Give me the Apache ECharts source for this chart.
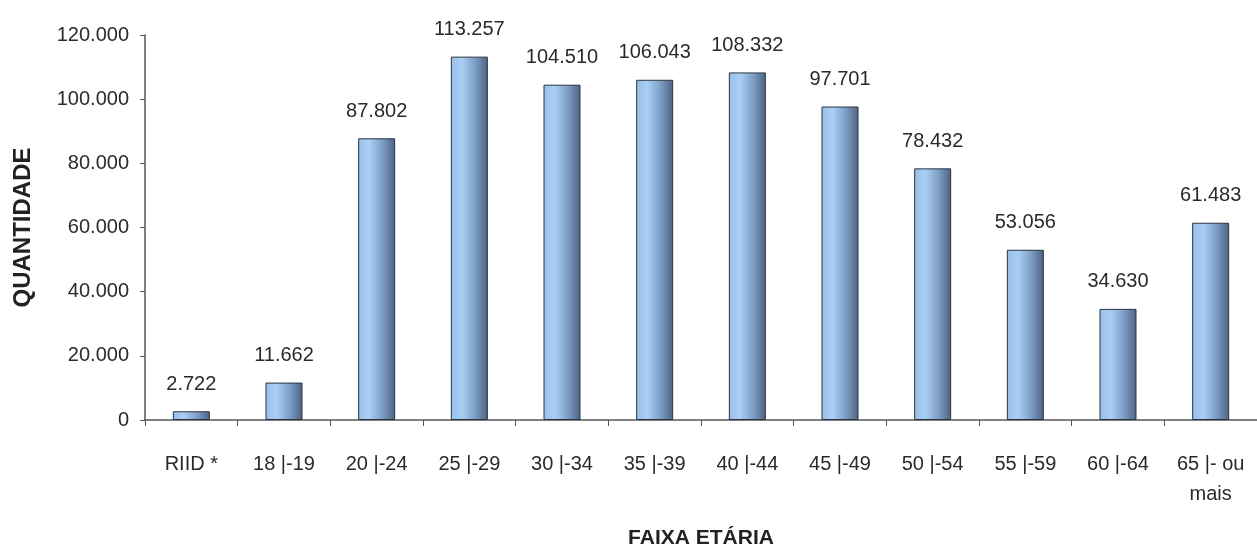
<!DOCTYPE html>
<html><head><meta charset="utf-8">
<script src="https://cdn.jsdelivr.net/npm/echarts@6/dist/echarts.min.js"></script>
<style>html,body{margin:0;padding:0;background:#fff}#c{width:1257px;height:554px}</style>
</head><body><div id="c"></div>
<script>
const categories = ['RIID *', '18 |-19', '20 |-24', '25 |-29', '30 |-34', '35 |-39', '40 |-44', '45 |-49', '50 |-54', '55 |-59', '60 |-64', '65 |- ou\nmais'];
const values = [2722, 11662, 87802, 113257, 104510, 106043, 108332, 97701, 78432, 53056, 34630, 61483];
const yTicks = [0, 20000, 40000, 60000, 80000, 100000, 120000];
const fmt = v => v === 0 ? '0' : String(v).replace(/\B(?=(\d{3})+(?!\d))/g, '.');
const chart = echarts.init(document.getElementById('c'));
chart.setOption({
  animation: false,
  backgroundColor: '#ffffff',
  textStyle: { fontFamily: 'Liberation Sans, Arial, sans-serif' },
  grid: { left: 145, top: 35, width: 1114, height: 387 },
  xAxis: {
    type: 'category', data: categories,
    name: 'FAIXA ETÁRIA', nameLocation: 'middle', nameGap: 108,
    nameTextStyle: { fontWeight: 'bold', fontSize: 21, color: '#222' },
    axisLine: { lineStyle: { color: '#555', width: 1.5 } },
    axisTick: { show: true, alignWithLabel: false, length: 6, lineStyle: { color: '#555' } },
    axisLabel: { fontSize: 20, color: '#2a2a2a', margin: 29, interval: 0, lineHeight: 30 }
  },
  yAxis: {
    type: 'value', min: yTicks[0], max: yTicks[yTicks.length - 1], interval: 20000,
    name: 'QUANTIDADE', nameLocation: 'middle', nameGap: 110, nameRotate: 90,
    nameTextStyle: { fontWeight: 'bold', fontSize: 24, color: '#222' },
    axisLine: { show: true, lineStyle: { color: '#555', width: 1.5 } },
    axisTick: { show: true, length: 5, lineStyle: { color: '#555' } },
    splitLine: { show: false },
    axisLabel: { fontSize: 20, color: '#2a2a2a', margin: 16, formatter: fmt }
  },
  series: [{
    type: 'bar', data: values, barWidth: 37,
    itemStyle: {
      color: new echarts.graphic.LinearGradient(0, 0, 1, 0, [
        { offset: 0, color: '#98bfe8' },
        { offset: 0.3, color: '#a9cff4' },
        { offset: 0.65, color: '#7f9fc6' },
        { offset: 1, color: '#4c6282' }
      ]),
      borderColor: '#2a3340', borderWidth: 1
    },
    label: { show: true, position: 'top', distance: 17, fontSize: 20, color: '#2a2a2a', formatter: p => fmt(p.value) }
  }]
});
</script></body></html>
